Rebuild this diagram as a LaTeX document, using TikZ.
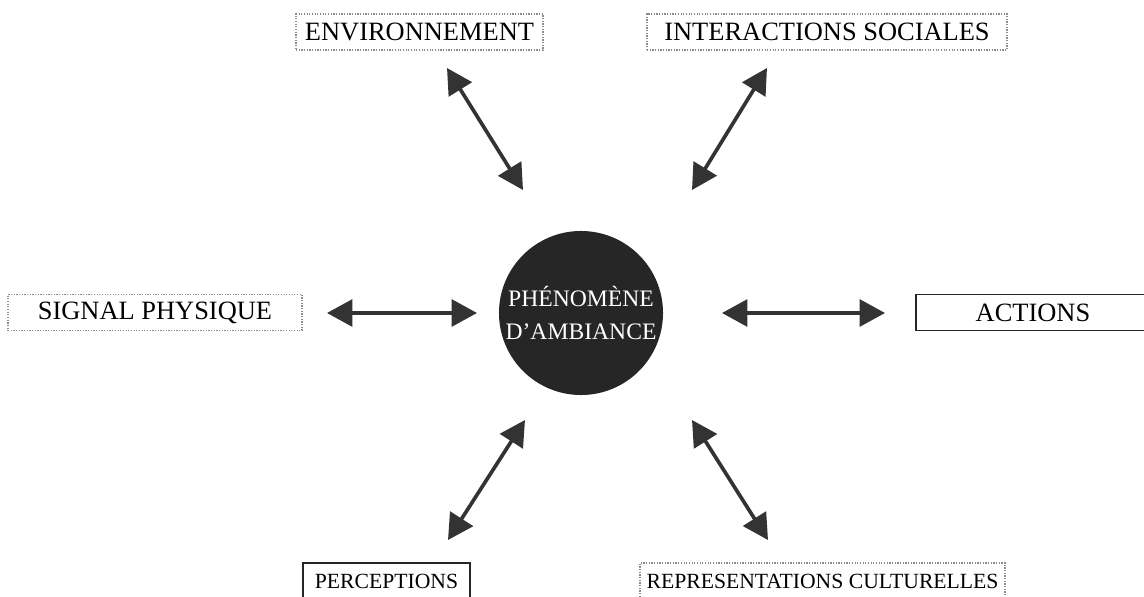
\documentclass[tikz,border=0pt]{standalone}
\usepackage{fontspec}
\setmainfont{Liberation Serif}
\usetikzlibrary{arrows.meta,shapes}

\tikzset{
  boite/.style={rectangle,minimum height=0.9cm,inner sep=0pt,
    font=\fontsize{18.8}{22}\selectfont},
  petit/.style={font=\fontsize{15.4}{19}\selectfont},
  boitegrise/.style={boite,draw=black!45,line width=0.9pt,densely dotted},
  boitenoire/.style={boite,draw=black!85,line width=1.3pt},
  fleche/.style={{Triangle[length=18pt,width=19pt]}-{Triangle[length=18pt,width=19pt]},
    line width=2.6pt,draw=black!80,fill=black!80}
}

\begin{document}
\begin{tikzpicture}[x=0.025cm,y=-0.025cm]
      \useasboundingbox (0,0) rectangle (1144,597);
      % centre
      \node[circle,fill=black!85,minimum size=4.1cm,inner sep=0pt,
        text=white,align=center,font=\fontsize{16.8}{23}\selectfont]
      (phen) at (581,313) {PHÉNOMÈNE\\D’AMBIANCE};
      % boites
      \node[boitegrise,minimum width=6.175cm] (env) at (419.5,32) {ENVIRONNEMENT};
      \node[boitegrise,minimum width=9cm] (inter) at (827,32) {INTERACTIONS SOCIALES};
      \node[boitegrise,minimum width=7.35cm] (signal) at (155,312.5) {SIGNAL PHYSIQUE};
      \node[boitenoire,minimum width=5.85cm] (act) at (1033,312.5) {ACTIONS};
      \node[boitenoire,petit,minimum width=4.175cm] (perc) at (386.5,581) {PERCEPTIONS};
      \node[boitegrise,petit,minimum width=9.125cm] (repr) at (822.5,581) {REPRESENTATIONS CULTURELLES};
      % extremites des fleches
      \coordinate (env-a) at (447,68);   \coordinate (env-b) at (523,190);
      \coordinate (inter-a) at (767,68); \coordinate (inter-b) at (692,190);
      \coordinate (sig-a) at (327,313);  \coordinate (sig-b) at (477,313);
      \coordinate (act-a) at (722,313);  \coordinate (act-b) at (885,313);
      \coordinate (perc-a) at (525,420); \coordinate (perc-b) at (448,540);
      \coordinate (repr-a) at (692,420); \coordinate (repr-b) at (768,540);
      \draw[fleche] (env-a) -- (env-b);
      \draw[fleche] (inter-a) -- (inter-b);
      \draw[fleche] (sig-a) -- (sig-b);
      \draw[fleche] (act-a) -- (act-b);
      \draw[fleche] (perc-a) -- (perc-b);
      \draw[fleche] (repr-a) -- (repr-b);
\end{tikzpicture}
\end{document}
